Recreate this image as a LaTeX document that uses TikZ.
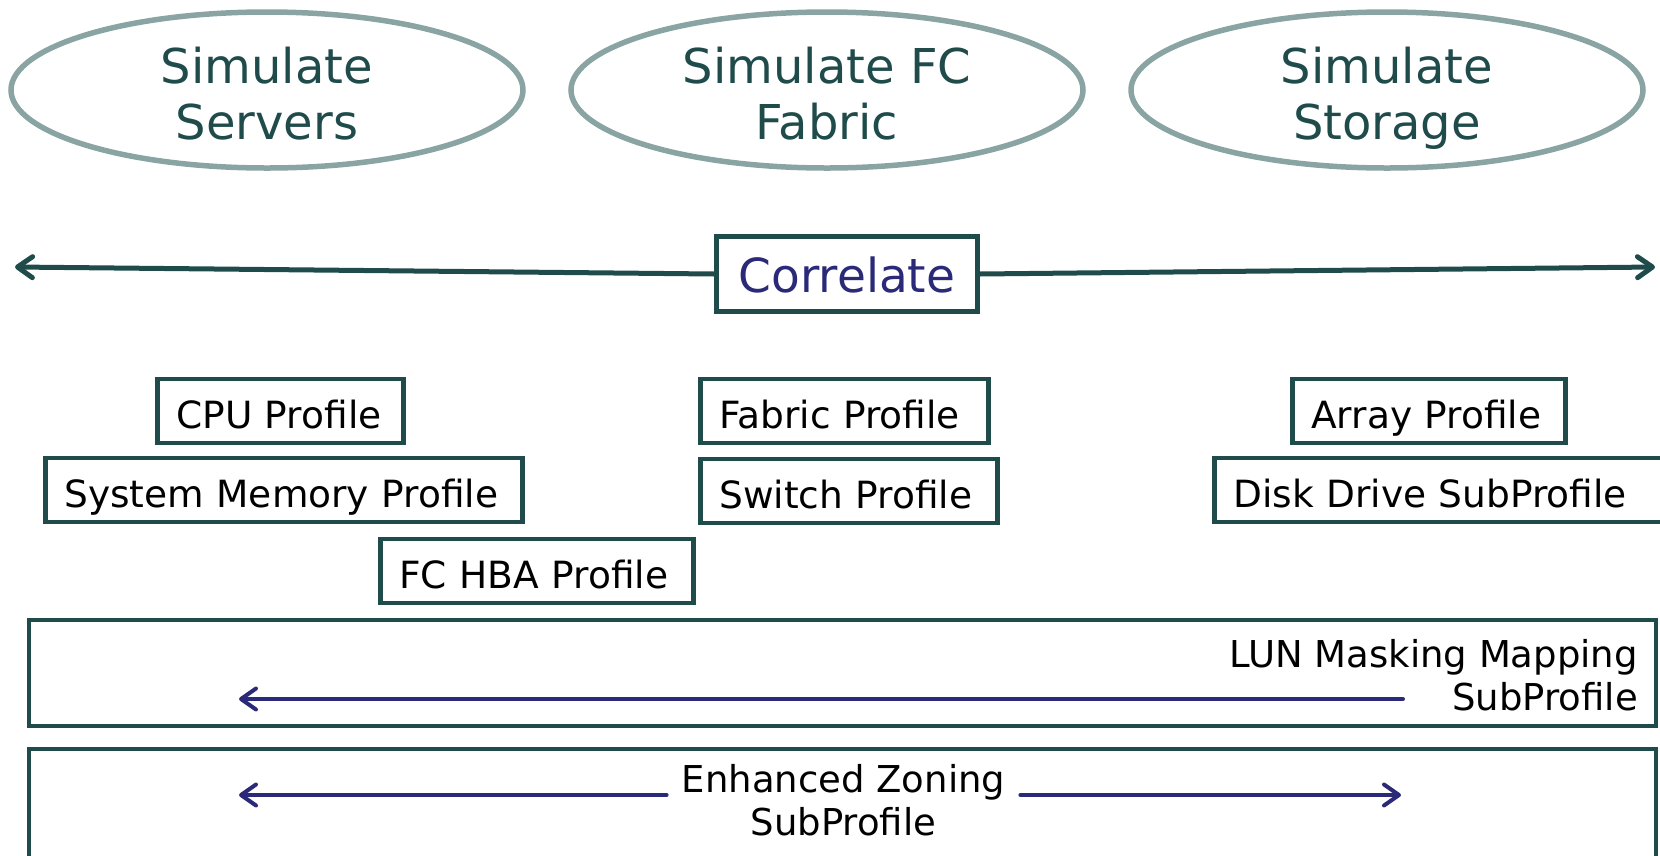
\documentclass[tikz,border=0pt]{standalone}
\usepackage{fontspec}
\setmainfont{DejaVu Sans}
\usepackage{tikz}
\usetikzlibrary{arrows.meta}
\usetikzlibrary{shapes.geometric}

\definecolor{tealline}{HTML}{1F4B4B}
\definecolor{greyteal}{HTML}{8AA4A4}
\definecolor{navy}{HTML}{2B2A78}

\begin{document}
\begin{tikzpicture}[x=1pt,y=-1pt]
	\useasboundingbox (0,0) rectangle (1660,855);

	% the two wide bands
	\draw[tealline,line width=4.5pt] (29,620) rectangle (1656,726);
	\draw[tealline,line width=4.5pt] (29,749) rectangle (1656,880);

	\begin{scope}[every node/.style={ellipse,draw=greyteal,line width=5.5pt,inner sep=0pt,minimum width=512pt,minimum height=156pt,align=center,text height=99pt,text depth=0pt,text=tealline,font=\fontsize{48}{56}\selectfont}]
	\node (SS) at (267,90) {Simulate\\Servers};
	\node (SF) at (827,90) {Simulate FC\\Fabric};
	\node (ST) at (1387,90) {Simulate\\Storage};
	\end{scope}

	\begin{scope}[every node/.style={rectangle,draw=tealline,line width=4.5pt,anchor=west,inner xsep=19pt,align=left,minimum height=64pt,text height=34pt,text depth=0pt,font=\fontsize{37.5}{43}\selectfont}]
	\node[text width=208pt] (CPU) at (155,411) {CPU Profile};
	\node[text width=439pt] (MEM) at (43,490) {System Memory Profile};
	\node[text width=275pt] (HBA) at (378,571) {FC HBA Profile};
	\node[text width=250pt] (FAB) at (698,411) {Fabric Profile};
	\node[text width=259pt] (SW) at (698,491) {Switch Profile};
	\node[text width=235pt] (ARR) at (1290,411) {Array Profile};
	\node[text width=424pt] (DSK) at (1212,490) {Disk Drive SubProfile};
	\end{scope}

	\node[draw=tealline,line width=4.5pt,fill=white,minimum width=261pt,minimum height=75pt,text height=36pt,text depth=0pt,text=navy,font=\fontsize{47}{56}\selectfont] (COR) at (847,274) {Correlate};

	\node[anchor=base east,align=right,inner sep=0pt,font=\fontsize{37}{43}\selectfont] (LUN) at (1638,710) {LUN Masking Mapping\\SubProfile};
	\node[anchor=base,align=center,inner xsep=15pt,inner ysep=0pt,font=\fontsize{37}{43}\selectfont] (EZ) at (843.5,835) {Enhanced Zoning\\SubProfile};

	\coordinate (CL) at (15,267);
	\coordinate (CR) at (1655,267);
	\coordinate (LS) at (1403,699);
	\coordinate (LE) at (239,699);
	\coordinate (EL) at (239,795);
	\coordinate (ER) at (1401,795);

	\begin{scope}[>={Straight Barb[length=15pt,width=21pt,round]},
	every edge/.style={draw,line cap=round}]
	\path [->,tealline,line width=5pt] (COR.west) edge (CL);
	\path [->,tealline,line width=5pt] (COR.east) edge (CR);
	\path [->,navy,line width=4pt] (LS) edge (LE);
	\path [->,navy,line width=4pt] (EZ.west |- EL) edge (EL);
	\path [->,navy,line width=4pt] (EZ.east |- ER) edge (ER);
	\end{scope}
\end{tikzpicture}
\end{document}
